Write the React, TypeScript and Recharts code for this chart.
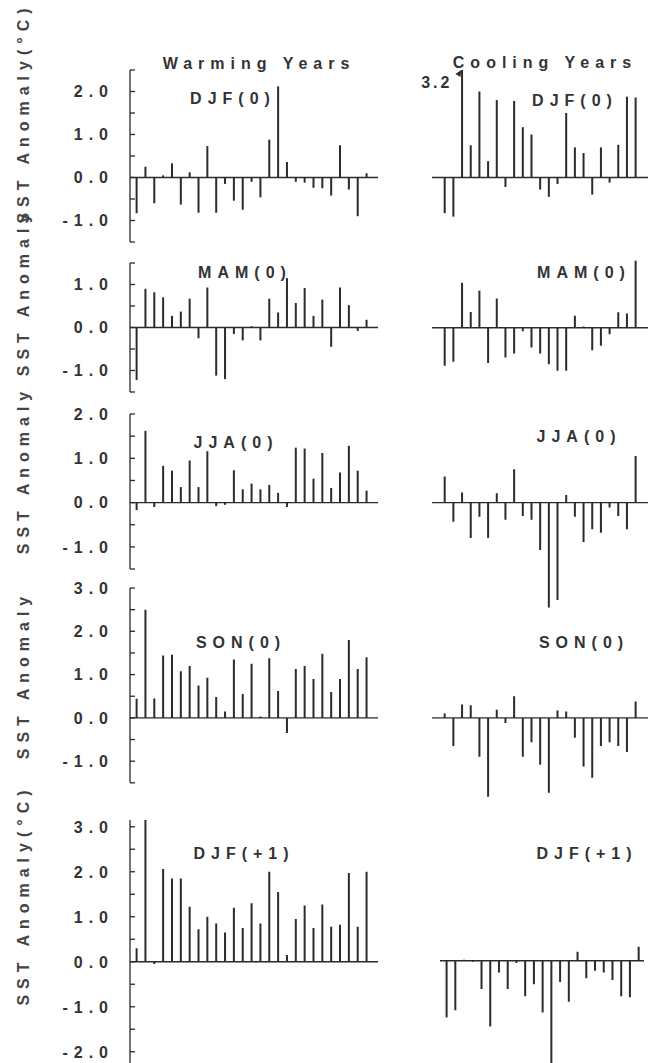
import React from 'react';
import { BarChart, Bar, XAxis, YAxis, ReferenceLine, ReferenceDot } from 'recharts';

// ---------- data ----------
const warmCases = [1, 2, 3, 4, 5, 6, 7, 8, 9, 10, 11, 12, 13, 14, 15, 16, 17, 18, 19, 20, 21, 22, 23, 24, 25, 26, 27];
const coolCases = [1, 2, 3, 4, 5, 6, 7, 8, 9, 10, 11, 12, 13, 14, 15, 16, 17, 18, 19, 20, 21, 22, 23];

const warmDJF0 = [-0.83, 0.25, -0.6, 0.05, 0.33, -0.63, 0.12, -0.82, 0.73, -0.82, -0.15, -0.54, -0.75, -0.1, -0.46, 0.88, 2.12, 0.36, -0.1, -0.12, -0.24, -0.25, -0.42, 0.75, -0.28, -0.9, 0.1];
const warmMAM0 = [-1.22, 0.9, 0.82, 0.7, 0.27, 0.37, 0.67, -0.25, 0.93, -1.12, -1.2, -0.15, -0.3, 0.03, -0.3, 0.67, 0.35, 1.15, 0.57, 0.92, 0.27, 0.65, -0.45, 0.93, 0.52, -0.08, 0.18];
const warmJJA0 = [-0.17, 1.62, -0.1, 0.83, 0.72, 0.35, 0.95, 0.35, 1.16, -0.08, -0.05, 0.73, 0.3, 0.43, 0.3, 0.4, 0.22, -0.1, 1.24, 1.22, 0.54, 1.12, 0.33, 0.68, 1.28, 0.72, 0.27];
const warmSON0 = [0.44, 2.5, 0.45, 1.44, 1.46, 1.08, 1.2, 0.75, 0.93, 0.48, 0.15, 1.35, 0.55, 1.25, 0.03, 1.38, 0.62, -0.35, 1.13, 1.2, 0.9, 1.48, 0.6, 0.9, 1.8, 1.13, 1.4];
const warmDJF1 = [0.3, 3.15, -0.05, 2.06, 1.85, 1.85, 1.22, 0.72, 1.0, 0.85, 0.65, 1.2, 0.75, 1.3, 0.85, 2.0, 1.55, 0.15, 0.95, 1.25, 0.75, 1.27, 0.78, 0.82, 1.97, 0.78, 2.0];

const coolDJF0 = [-0.83, -0.91, 3.2, 0.75, 2.0, 0.38, 1.8, -0.22, 1.78, 1.17, 1.0, -0.28, -0.45, -0.15, 1.5, 0.7, 0.57, -0.4, 0.7, -0.12, 0.76, 1.88, 1.86];
const coolMAM0 = [-0.88, -0.79, 1.05, 0.37, 0.86, -0.82, 0.68, -0.69, -0.6, -0.08, -0.46, -0.6, -0.85, -1.0, -1.0, 0.28, 0.03, -0.52, -0.42, -0.15, 0.36, 0.33, 1.56];
const coolJJA0 = [0.59, -0.43, 0.23, -0.8, -0.32, -0.8, 0.21, -0.39, 0.75, -0.3, -0.39, -1.07, -2.37, -2.2, 0.17, -0.32, -0.89, -0.6, -0.68, -0.11, -0.3, -0.6, 1.05];
const coolSON0 = [0.1, -0.65, 0.31, 0.29, -0.9, -1.82, 0.19, -0.12, 0.5, -0.9, -0.56, -1.08, -1.73, 0.17, 0.15, -0.46, -1.12, -1.38, -0.65, -0.56, -0.65, -0.79, 0.38];
const coolDJF1 = [-1.26, -1.1, 0.02, -0.02, -0.63, -1.46, -0.26, -0.63, -0.05, -0.79, -0.52, -1.15, -2.45, -0.47, -0.91, 0.2, -0.39, -0.22, -0.26, -0.43, -0.79, -0.81, 0.31];

const seasonLabels = ['DJF(0)', 'MAM(0)', 'JJA(0)', 'SON(0)', 'DJF(+1)'];
const columnTitles = ['Warming Years', 'Cooling Years'];
const axisTitles = ['SST Anomaly(°C)', 'SST Anomaly', 'SST Anomaly', 'SST Anomaly', 'SST Anomaly(°C)'];

const ticksDJF0 = [-1.5, -1, -0.5, 0, 0.5, 1, 1.5, 2, 2.5];
const ticksMAM0 = [-1.5, -1, -0.5, 0, 0.5, 1, 1.5];
const ticksJJA0 = [-1.5, -1, -0.5, 0, 0.5, 1, 1.5, 2];
const ticksSON0 = [-1.5, -1, -0.5, 0, 0.5, 1, 1.5, 2, 2.5, 3];
const ticksDJF1 = [-2, -1.5, -1, -0.5, 0, 0.5, 1, 1.5, 2, 2.5, 3];

// ---------- style ----------
const INK = '#2b2b2b';
const FONT = '"Liberation Sans", Arial, Helvetica, sans-serif';
const M = 10;
const AXIS_W = 70;
const COOL_PAD = 40;

const AxisTick = (props: any) => {
  const { x, y, payload } = props;
  const v = payload.value as number;
  const major = Math.abs(v - Math.round(v)) < 1e-6;
  return (
    <g>
      <line x1={x} x2={x + 5} y1={y} y2={y} stroke={INK} strokeWidth={1.3} />
      {major && (
        <text
          x={x - 16}
          y={y}
          dy="0.36em"
          textAnchor="end"
          fontFamily={FONT}
          fontWeight="bold"
          fontSize={16}
          letterSpacing={6}
          fill="#333"
        >
          {v.toFixed(1)}
        </text>
      )}
    </g>
  );
};

const OverflowMark = (props: any) => {
  const { cx, cy, text } = props;
  return (
    <g>
      <polygon points={`${cx - 1},${cy} ${cx - 7},${cy + 4} ${cx - 2},${cy + 7}`} fill={INK} />
      <text
        x={cx - 10}
        y={cy + 12}
        dy="0.36em"
        textAnchor="end"
        fontFamily={FONT}
        fontWeight="bold"
        fontSize={16}
        letterSpacing={3}
        fill="#333"
      >
        {text}
      </text>
    </g>
  );
};

type PanelProps = {
  cats: number[];
  values: number[];
  left: number;
  plotW: number;
  zeroY: number;
  unit: number;
  domain: [number, number];
  ticks?: number[];
  padL: number;
  padR: number;
  showAxis: boolean;
  overflowIndex?: number;
};

function Panel(p: PanelProps) {
  const data = p.cats.map((c, i) => ({ c, v: p.values[i] }));
  const leftSpace = p.showAxis ? AXIS_W : COOL_PAD;
  const width = leftSpace + p.plotW;
  const height = (p.domain[1] - p.domain[0]) * p.unit + 2 * M;
  const top = p.zeroY - p.domain[1] * p.unit - M;
  const chartLeft = p.left - leftSpace;
  return (
    <div style={{ position: 'absolute', left: chartLeft, top, width, height }}>
      <BarChart
        width={width}
        height={height}
        data={data}
        margin={{ top: M, bottom: M, left: p.showAxis ? 0 : COOL_PAD, right: 0 }}
        barCategoryGap={0}
      >
        <XAxis dataKey="c" hide padding={{ left: p.padL, right: p.padR }} />
        <YAxis
          type="number"
          domain={p.domain}
          allowDataOverflow
          hide={!p.showAxis}
          width={AXIS_W}
          ticks={p.ticks}
          interval={0}
          tickSize={0}
          tickMargin={0}
          tickLine={false}
          axisLine={{ stroke: INK, strokeWidth: 1.3 }}
          tick={<AxisTick />}
        />
        <ReferenceLine y={0} stroke={INK} strokeWidth={1.4} />
        <Bar dataKey="v" fill={INK} barSize={2} isAnimationActive={false} />
        {p.overflowIndex !== undefined && (
          <ReferenceDot
            x={p.cats[p.overflowIndex]}
            y={p.domain[1]}
            r={0}
            ifOverflow="visible"
            shape={(s: any) => <OverflowMark {...s} text={String(p.values[p.overflowIndex!])} />}
          />
        )}
      </BarChart>
    </div>
  );
}

const rows = [
  { warm: warmDJF0, cool: coolDJF0, zeroY: 177, unit: 43, wDom: [-1.5, 2.5], cDom: [-1.5, 2.5], ticks: ticksDJF0, wl: [230, 98], cl: [572, 100], title: 113 },
  { warm: warmMAM0, cool: coolMAM0, zeroY: 327.5, unit: 43, wDom: [-1.5, 1.5], cDom: [-1.5, 1.6], ticks: ticksMAM0, wl: [242, 272], cl: [581, 272], title: 292 },
  { warm: warmJJA0, cool: coolJJA0, zeroY: 503, unit: 44.3, wDom: [-1.5, 2.0], cDom: [-2.5, 2.0], ticks: ticksJJA0, wl: [233, 442], cl: [576, 436], title: 470 },
  { warm: warmSON0, cool: coolSON0, zeroY: 718, unit: 43.3, wDom: [-1.5, 3.0], cDom: [-2.0, 3.0], ticks: ticksSON0, wl: [238, 642], cl: [581, 642], title: 675 },
  { warm: warmDJF1, cool: coolDJF1, zeroY: 961.5, unit: 45, wDom: [-2.3, 3.15], cDom: [-2.3, 3.15], ticks: ticksDJF1, wl: [241, 853], cl: [584, 853], title: 895 },
];

const textStyle = {
  fontFamily: FONT,
  fontWeight: 'bold' as const,
  fill: '#333',
};

export default function App() {
  return (
    <div
      style={{
        position: 'absolute',
        left: 0,
        top: 0,
        width: 650,
        height: 1063,
        overflow: 'hidden',
        background: '#fff',
      }}
    >
      {rows.map((r, i) => (
        <React.Fragment key={i}>
          <Panel
            cats={warmCases}
            values={r.warm}
            left={130}
            plotW={248}
            zeroY={r.zeroY}
            unit={r.unit}
            domain={r.wDom as [number, number]}
            ticks={r.ticks}
            padL={2.6}
            padR={6.6}
            showAxis
          />
          <Panel
            cats={coolCases}
            values={r.cool}
            left={i === 4 ? 440 : 432}
            plotW={i === 4 ? 204 : 216}
            zeroY={i === 4 ? 960.5 : r.zeroY}
            unit={r.unit}
            domain={r.cDom as [number, number]}
            padL={i === 4 ? 2.6 : 8.7}
            padR={i === 4 ? 0.6 : 7.7}
            showAxis={false}
            overflowIndex={i === 0 ? 2 : undefined}
          />
        </React.Fragment>
      ))}
      <svg
        width={650}
        height={1063}
        style={{ position: 'absolute', left: 0, top: 0, pointerEvents: 'none' }}
      >
        <text x={259} y={63} dy="0.36em" textAnchor="middle" fontSize={16} letterSpacing={6} {...textStyle}>
          {columnTitles[0]}
        </text>
        <text x={545} y={62} dy="0.36em" textAnchor="middle" fontSize={16} letterSpacing={6} {...textStyle}>
          {columnTitles[1]}
        </text>
        {rows.map((r, i) => (
          <React.Fragment key={i}>
            <text x={r.wl[0] + 3} y={r.wl[1]} dy="0.36em" textAnchor="middle" fontSize={16} letterSpacing={6} {...textStyle}>
              {seasonLabels[i]}
            </text>
            <text x={r.cl[0] + 3} y={r.cl[1]} dy="0.36em" textAnchor="middle" fontSize={16} letterSpacing={6} {...textStyle}>
              {seasonLabels[i]}
            </text>
            <text
              x={23}
              y={r.title}
              dy="0.36em"
              textAnchor="middle"
              fontSize={16}
              letterSpacing={6}
              transform={`rotate(-90 23 ${r.title})`}
              {...textStyle}
              fill="#444"
            >
              {axisTitles[i]}
            </text>
          </React.Fragment>
        ))}
      </svg>
    </div>
  );
}
